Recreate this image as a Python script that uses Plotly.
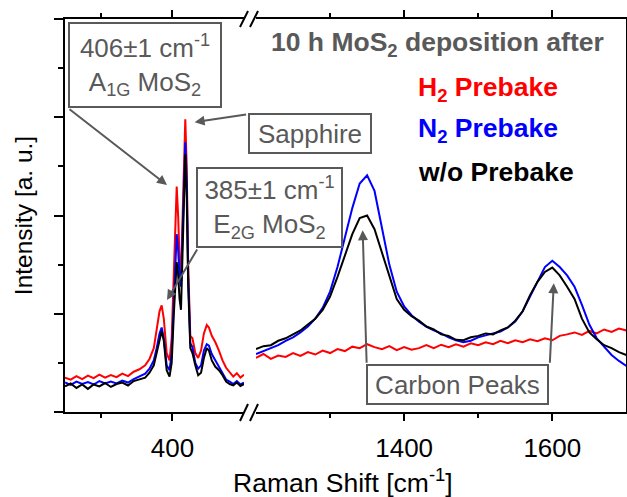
import plotly.graph_objects as go

# ---------------- data ----------------
# Left segment (MoS2 / sapphire region), Raman shift in cm^-1
x_low = [250, 258, 266, 274, 282, 290, 298, 306, 314, 322, 330, 338, 346, 354, 362, 368,
         374, 378, 382, 385, 388, 392, 396, 399, 402, 404, 406, 408, 410, 412, 414, 416,
         418, 420, 422, 425, 428, 432, 436, 440, 444, 448, 451, 455, 460, 465, 470, 475,
         480, 485, 490, 495, 500]
h2_low = [0.70, 0.66, 0.73, 0.67, 0.74, 0.69, 0.76, 0.70, 0.75, 0.71, 0.78, 0.73, 0.82, 0.87, 0.95, 1.08,
          1.30, 1.65, 2.05, 2.17, 1.90, 1.20, 1.05, 1.50, 3.00, 4.10, 4.59, 4.00, 3.10, 2.80, 3.80, 5.30,
          5.96, 5.00, 3.00, 1.55, 1.50, 1.20, 1.10, 1.25, 1.60, 1.77, 1.72, 1.55, 1.42, 1.25, 1.05, 0.90,
          0.80, 0.72, 0.79, 0.70, 0.76]
n2_low = [0.60, 0.55, 0.62, 0.57, 0.61, 0.56, 0.63, 0.58, 0.62, 0.58, 0.64, 0.60, 0.67, 0.72, 0.78, 0.88,
          1.05, 1.30, 1.60, 1.72, 1.50, 0.95, 0.85, 1.20, 2.40, 3.20, 3.62, 3.30, 2.75, 2.55, 3.50, 4.90,
          5.49, 4.70, 2.80, 1.40, 1.32, 1.00, 0.88, 0.95, 1.25, 1.38, 1.35, 1.18, 1.05, 0.92, 0.80, 0.66,
          0.62, 0.57, 0.63, 0.56, 0.60]
wo_low = [0.52, 0.58, 0.49, 0.56, 0.47, 0.56, 0.52, 0.59, 0.51, 0.57, 0.60, 0.54, 0.63, 0.66, 0.70, 0.80,
          0.95, 1.20, 1.50, 1.65, 1.45, 0.85, 0.72, 1.00, 2.00, 2.70, 3.05, 2.80, 2.30, 2.08, 3.20, 4.60,
          5.25, 4.40, 2.60, 1.30, 1.20, 0.95, 0.75, 0.80, 1.10, 1.30, 1.25, 1.05, 0.92, 0.85, 0.75, 0.62,
          0.57, 0.54, 0.60, 0.53, 0.57]

# Right segment (carbon D / G band region)
x_high = [1200, 1210, 1220, 1230, 1240, 1250, 1260, 1270, 1280, 1290, 1300, 1310, 1320, 1330, 1340,
          1350, 1360, 1370, 1380, 1390, 1400, 1410, 1420, 1430, 1440, 1450, 1460, 1470, 1480, 1490,
          1500, 1510, 1520, 1530, 1540, 1550, 1560, 1570, 1580, 1590, 1600, 1610, 1620, 1630, 1640,
          1650, 1660, 1670, 1680, 1690, 1700]
h2_high = [1.10, 1.18, 1.08, 1.15, 1.12, 1.20, 1.14, 1.22, 1.17, 1.25, 1.20, 1.28, 1.24, 1.33, 1.30,
           1.38, 1.32, 1.28, 1.34, 1.26, 1.32, 1.27, 1.30, 1.36, 1.30, 1.37, 1.32, 1.38, 1.33, 1.40,
           1.36, 1.42, 1.38, 1.45, 1.40, 1.46, 1.42, 1.48, 1.44, 1.50, 1.46, 1.55, 1.58, 1.62, 1.57,
           1.65, 1.60, 1.68, 1.63, 1.70, 1.66]
n2_high = [1.18, 1.24, 1.30, 1.36, 1.45, 1.52, 1.62, 1.74, 1.90, 2.12, 2.45, 2.95, 3.55, 4.15, 4.65,
           4.82, 4.50, 3.75, 3.00, 2.45, 2.15, 1.97, 1.84, 1.74, 1.66, 1.60, 1.52, 1.46, 1.42, 1.45,
           1.52, 1.56, 1.60, 1.64, 1.72, 1.84, 2.05, 2.35, 2.68, 2.95, 3.08, 2.95, 2.78, 2.55, 2.18,
           1.78, 1.50, 1.32, 1.16, 1.04, 0.94]
wo_high = [1.28, 1.34, 1.36, 1.45, 1.50, 1.58, 1.66, 1.78, 1.90, 2.08, 2.35, 2.75, 3.20, 3.62, 3.95,
           4.00, 3.72, 3.25, 2.78, 2.30, 2.08, 1.95, 1.86, 1.74, 1.68, 1.58, 1.55, 1.47, 1.46, 1.52,
           1.55, 1.60, 1.58, 1.66, 1.72, 1.86, 2.05, 2.38, 2.65, 2.85, 2.94, 2.78, 2.55, 2.30, 1.90,
           1.62, 1.48, 1.36, 1.30, 1.22, 1.16]

low_ticks = [400]
low_minor = [300]
high_ticks = [1400, 1600]
high_minor = [1300, 1500]

series_names = ["H<sub>2</sub> Prebake", "N<sub>2</sub> Prebake", "w/o Prebake"]
series_colors = ["#ff0000", "#0000ff", "#000000"]

# ---------------- layout geometry (pixels) ----------------
W, H = 627, 497
ML, MR, MT, MB = 65, 1, 19, 85
PW = W - ML - MR
PH = H - MT - MB
FONT = "Liberation Sans, Arial, sans-serif"
GRAY = "#595959"


def px(xp):
    return (xp - ML) / PW


def py(yp):
    return (MT + PH - yp) / PH


fig = go.Figure()

for name, col, yl, yh in zip(series_names, series_colors,
                             [h2_low, n2_low, wo_low], [h2_high, n2_high, wo_high]):
    fig.add_trace(go.Scatter(x=x_low, y=yl, mode="lines", name=name,
                             line=dict(color=col, width=2), xaxis="x", yaxis="y",
                             showlegend=False))
    fig.add_trace(go.Scatter(x=x_high, y=yh, mode="lines", name=name,
                             line=dict(color=col, width=2), xaxis="x2", yaxis="y2",
                             showlegend=False))

axis_common = dict(showline=True, linecolor="black", linewidth=2, showgrid=False,
                   zeroline=False, ticks="outside", tickcolor="black", tickwidth=2,
                   tickfont=dict(family=FONT, size=26, color="black"))

fig.update_layout(
    width=W, height=H,
    margin=dict(l=ML, r=MR, t=MT, b=MB),
    paper_bgcolor="white", plot_bgcolor="white",
    font=dict(family=FONT, color="black"),
    xaxis=dict(domain=[0, px(244)], range=[250, 500], anchor="y",
               tickmode="array", tickvals=low_ticks, ticklen=7, mirror="allticks",
               ticklabelstandoff=5,
               minor=dict(tickmode="array", tickvals=low_minor, ticks="outside",
                          ticklen=4, tickcolor="black", tickwidth=2),
               **axis_common),
    xaxis2=dict(domain=[px(256), 1], range=[1200, 1699.5], anchor="y2",
                tickmode="array", tickvals=high_ticks, ticklen=7, mirror="allticks",
                ticklabelstandoff=5,
                minor=dict(tickmode="array", tickvals=high_minor, ticks="outside",
                           ticklen=4, tickcolor="black", tickwidth=2),
                **axis_common),
    yaxis=dict(domain=[0, 1], range=[0, 8], anchor="x", tickmode="array",
               tickvals=[0, 2, 4, 6, 8], ticklen=9, showticklabels=False,
               minor=dict(tickmode="array", tickvals=[1, 3, 5, 7], ticks="outside",
                          ticklen=5, tickcolor="black", tickwidth=2),
               title=dict(text="Intensity [a. u.]", font=dict(family=FONT, size=24.5, color="black"),
                          standoff=14),
               **axis_common),
    yaxis2=dict(domain=[0, 1], range=[0, 8], anchor="x2", matches="y", side="right",
                showticklabels=False, showline=True, linecolor="black", linewidth=2,
                showgrid=False, zeroline=False, ticks=""),
)

annotations = []

# x axis title spanning both segments
annotations.append(dict(xref="paper", yref="paper", x=px(343), y=py(481),
                        xanchor="center", yanchor="middle", showarrow=False,
                        text="Raman Shift [cm<sup>-1</sup>]",
                        font=dict(family=FONT, size=26.5, color="black")))

# boxed labels: (text, left, top, right, bottom)
boxes = [
    ("406±1 cm<sup>-1</sup><br>A<sub>1G</sub> MoS<sub>2</sub>", 68, 22, 222, 108),
    ("Sapphire", 248, 113, 372, 154),
    ("385±1 cm<sup>-1</sup><br>E<sub>2G</sub> MoS<sub>2</sub>", 196, 167, 343, 248),
    ("Carbon Peaks", 366, 364, 549, 405),
]
for text, l, t, r, b in boxes:
    annotations.append(dict(xref="paper", yref="paper", x=px(l), y=py(t),
                            xanchor="left", yanchor="top", showarrow=False,
                            text=text, width=r - l - 4, height=b - t - 4,
                            bordercolor=GRAY, borderwidth=2, borderpad=0,
                            bgcolor="rgba(255,255,255,0)",
                            font=dict(family=FONT, size=26, color=GRAY)))

# arrows: tip in data coords, tail as pixel offset
arrows = [
    ("x", 392.5, 4.62, -99, -77),
    ("x", 431.0, 5.90, 53, -8),
    ("x", 392.5, 2.28, 31, -52),
    ("x2", 1344.0, 3.70, 4, 134),
    ("x2", 1602.0, 2.62, -4, 81),
]
for xr, xt, yt, ax, ay in arrows:
    annotations.append(dict(xref=xr, yref="y", x=xt, y=yt, ax=ax, ay=ay,
                            axref="pixel", ayref="pixel", text="", showarrow=True,
                            arrowhead=2, arrowsize=1, arrowwidth=2, arrowcolor=GRAY,
                            standoff=0, startstandoff=0))

# legend-like bold texts
annotations.append(dict(xref="paper", yref="paper", x=px(437), y=py(44),
                        xanchor="center", yanchor="middle", showarrow=False,
                        text="<b>10 h MoS<sub>2</sub> deposition after</b>",
                        font=dict(family=FONT, size=26.5, color=GRAY)))
for name, col, yc in zip(series_names, series_colors, [89, 130, 172]):
    annotations.append(dict(xref="paper", yref="paper", x=px(416), y=py(yc),
                            xanchor="left", yanchor="middle", showarrow=False,
                            text="<b>" + name + "</b>",
                            font=dict(family=FONT, size=26.5, color=col)))

fig.update_layout(annotations=annotations)

# axis break marks "//" on top and bottom spines
shapes = []
for ytop, ybot in [(27, 11), (421, 404)]:
    for x0 in (240, 250):
        shapes.append(dict(type="line", xref="paper", yref="paper",
                           x0=px(x0), y0=py(ytop), x1=px(x0 + 8), y1=py(ybot),
                           line=dict(color="black", width=2)))
fig.update_layout(shapes=shapes)

fig.write_html("out.html")
